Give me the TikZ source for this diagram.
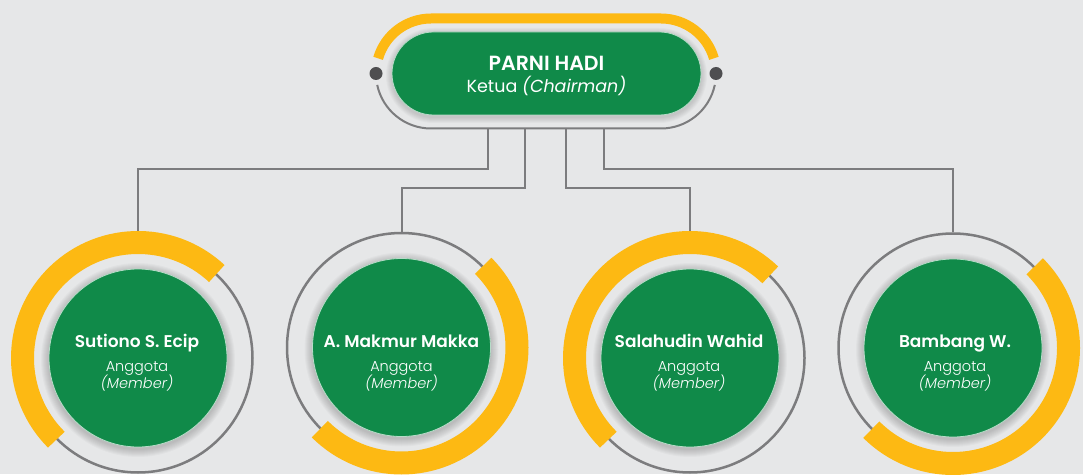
\documentclass[tikz,border=0pt]{standalone}
\usepackage{fontspec}
\setmainfont{Poppins}
\IfFontExistsTF{Poppins SemiBold}{\newfontfamily\semib{Poppins SemiBold}}{\newcommand\semib{\bfseries}}
\IfFontExistsTF{Poppins Light}{\newfontfamily\lightf{Poppins Light}[ItalicFont={Poppins Light Italic}]}{\newcommand\lightf{}}
\usetikzlibrary{calc}
\definecolor{bg}{HTML}{E6E7E8}
\definecolor{grn}{HTML}{108A49}
\definecolor{yel}{HTML}{FDB913}
\definecolor{lin}{HTML}{7C7C7E}
\definecolor{dotc}{HTML}{4E4E50}
\begin{document}
\begin{tikzpicture}[x=1pt,y=1pt,
  conn/.style={draw=lin, line width=2pt},
  ringc/.style={circle, draw=lin, line width=2.5pt, minimum size=229pt, inner sep=0pt},
  disc/.style={circle, fill=grn, draw=grn!30!white, line width=0.8pt, minimum size=178pt, inner sep=0pt},
  yarc/.style={draw=yel, line width=23pt, line cap=butt},
  nm/.style={font=\semib\fontsize{17}{20}\selectfont, text=white, anchor=base},
  rl/.style={font=\lightf\fontsize{14.5}{17}\selectfont, text=white, anchor=base},
  dotn/.style={circle, fill=dotc, minimum size=13pt, inner sep=0pt},
]
\fill[bg] (0,0) rectangle (1083,474);
\useasboundingbox (0,0) rectangle (1083,474);

% ---------- top ----------
\coordinate (cL) at (431,400.5);
\coordinate (cR) at (661,400.5);
\foreach \k in {1,...,6}{
  \fill[black,opacity=0.025,rounded corners=41.5pt+\k pt] (392-\k,359-\k-2) rectangle (701+\k,442+\k-2);
}
\draw[draw=yel,line width=10pt] ($(cL)+(164:55)$) arc[start angle=164,end angle=90,radius=55] -- ($(cR)+(0,55)$) arc[start angle=90,end angle=16,radius=55];
\draw[conn] ($(cL)+(192:55)$) arc[start angle=192,end angle=270,radius=55] -- ($(cR)+(0,-55)$) arc[start angle=270,end angle=348,radius=55];
\node[dotn] (dl) at ($(cL)+(-55,0)$) {};
\node[dotn] (dr) at ($(cR)+(55,0)$) {};
\node[rectangle, rounded corners=41.5pt, fill=grn, draw=grn!30!white, line width=0.8pt, minimum width=309pt, minimum height=83pt, inner sep=0pt] (chair) at (546.5,400.5) {};
\node[font=\semib\fontsize{20.5}{24}\selectfont, text=white, anchor=base] (chairname) at (546.5,403) {PARNI HADI};
\node[font=\fontsize{17.5}{20}\selectfont, text=white, anchor=base] (chairrole) at (546.5,381.3) {Ketua \textit{(Chairman)}};

\coordinate (s1) at (487.5,345.5);
\coordinate (s2) at (525,345.5);
\coordinate (s3) at (566,345.5);
\coordinate (s4) at (604,345.5);

% ---------- rings ----------
\node[ringc] (r1) at (138,116) {};
\node[ringc] (r2) at (401.5,126.5) {};
\node[ringc] (r3) at (690,116) {};
\node[ringc] (r4) at (953,126) {};

\draw[conn] (s1) -- (487.5,305) -| (r1.north);
\draw[conn] (s2) -- (525,286) -| (r2.north);
\draw[conn] (s3) -- (566,286) -| (r3.north);
\draw[conn] (s4) -- (604,305) -| (r4.north);

\draw[yarc] ($(r1.center)+(47:115.5)$) arc[start angle=47,end angle=225,radius=115.5];
\draw[yarc] ($(r2.center)+(45:115.5)$) arc[start angle=45,end angle=-135,radius=115.5];
\draw[yarc] ($(r3.center)+(46:115.5)$) arc[start angle=46,end angle=225,radius=115.5];
\draw[yarc] ($(r4.center)+(45:115.5)$) arc[start angle=45,end angle=-135,radius=115.5];

% ---------- discs ----------
\foreach \c in {r1,r2,r3,r4}{
  \foreach \k in {1,...,8}{
    \fill[black,opacity=0.022] ($(\c.center)+(0,-2)$) circle (89+\k);
  }
}
\node[disc] (d1) at (r1.center) {};
\node[disc] (d2) at (r2.center) {};
\node[disc] (d3) at (r3.center) {};
\node[disc] (d4) at (r4.center) {};

% ---------- texts ----------
\node[nm] (n1) at (137,126.3) {Sutiono S. Ecip};
\node[rl] (a1) at (137,102.3) {Anggota};
\node[rl] (m1) at (137,85.7) {\textit{(Member)}};
\node[nm] (n2) at (401.5,126.3) {A. Makmur Makka};
\node[rl] (a2) at (401.5,102.3) {Anggota};
\node[rl] (m2) at (401.5,85.7) {\textit{(Member)}};
\node[nm] (n3) at (689,126.3) {Salahudin Wahid};
\node[rl] (a3) at (689,102.3) {Anggota};
\node[rl] (m3) at (689,85.7) {\textit{(Member)}};
\node[nm] (n4) at (955,126.3) {Bambang W.};
\node[rl] (a4) at (955,102.3) {Anggota};
\node[rl] (m4) at (955,85.7) {\textit{(Member)}};
\end{tikzpicture}
\end{document}
